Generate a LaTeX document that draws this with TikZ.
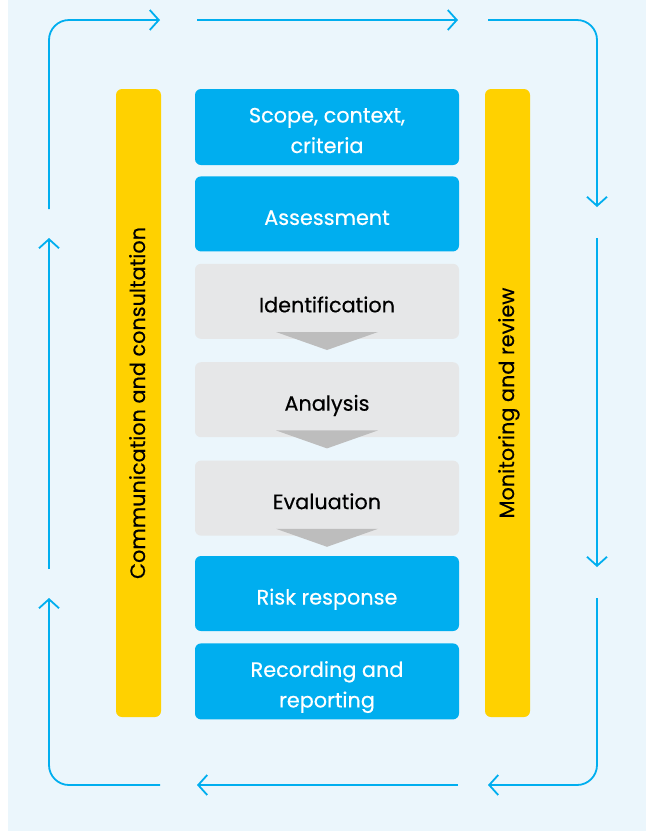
\documentclass[tikz,border=0pt]{standalone}
\usepackage{fontspec}
\setmainfont{Poppins}[FakeBold=0.4]
\usepackage{xcolor}
\definecolor{bg}{HTML}{EBF6FC}
\definecolor{abbblue}{HTML}{00AEEF}
\definecolor{pale}{HTML}{E6E7E8}
\definecolor{yel}{HTML}{FFD100}
\definecolor{wedge}{HTML}{BDBDBD}
\usepackage{tikz}
\usetikzlibrary{arrows.meta, positioning, calc}

\begin{document}
\begin{tikzpicture}[
    x=1pt, y=-1pt,
    font=\fontsize{20.8}{30.5}\selectfont,
    stage/.style={rounded corners=6pt, minimum width=264pt, minimum height=75pt, align=center, inner sep=0pt, text height=22pt, text depth=0pt},
    twoline/.style={minimum height=76pt, text height=52pt},
    mainstage/.style={stage, fill=abbblue, text=white},
    substage/.style={stage, fill=pale, text=black},
    sidebar/.style={rounded corners=6pt, fill=yel, minimum width=628pt, minimum height=45pt, rotate=90, inner sep=0pt, text height=13pt, text depth=0pt},
    loop/.style={draw=abbblue, line width=1.8pt, rounded corners=20pt, -{Straight Barb[length=9pt, width=20pt]}}
    ]

    \useasboundingbox (0,0) rectangle (646,831);
    \fill[bg] (8,0) rectangle (646,831);

    \node[mainstage, twoline] (scope) at (327,127) {Scope, context,\\criteria};
    \node[mainstage, below=11pt of scope] (assess) {Assessment};
    \node[substage, below=12pt of assess] (ident) {Identification};
    \node[substage, below=23pt of ident] (analysis) {Analysis};
    \node[substage, below=23pt of analysis] (evaluation) {Evaluation};
    \node[mainstage, below=20pt of evaluation] (response) {Risk response};
    \node[mainstage, twoline, below=12pt of response] (record) {Recording and\\reporting};

    % wedges under the assessment steps
    \foreach \s in {ident, analysis, evaluation}
        \fill[wedge] ($(\s.south)+(-51,-7)$) -- ($(\s.south)+(51,-7)$) -- ($(\s.south)+(0,11)$) -- cycle;

    \node[sidebar] (comm) at (138.5,403) {Communication and consultation};
    \node[sidebar] (monitor) at (507.5,403) {Monitoring and review};

    % outer loop
    \draw[loop] (49,209) -- (49,20) -- (160,20);
    \draw[loop] (197,20) -- (458,20);
    \draw[loop] (488,20) -- (597,20) -- (597,207);
    \draw[loop] (597,238) -- (597,567);
    \draw[loop] (597,598) -- (597,785) -- (488,785);
    \draw[loop] (458,785) -- (197,785);
    \draw[loop] (160,785) -- (49,785) -- (49,598);
    \draw[loop] (49,569) -- (49,238);
\end{tikzpicture}
\end{document}
